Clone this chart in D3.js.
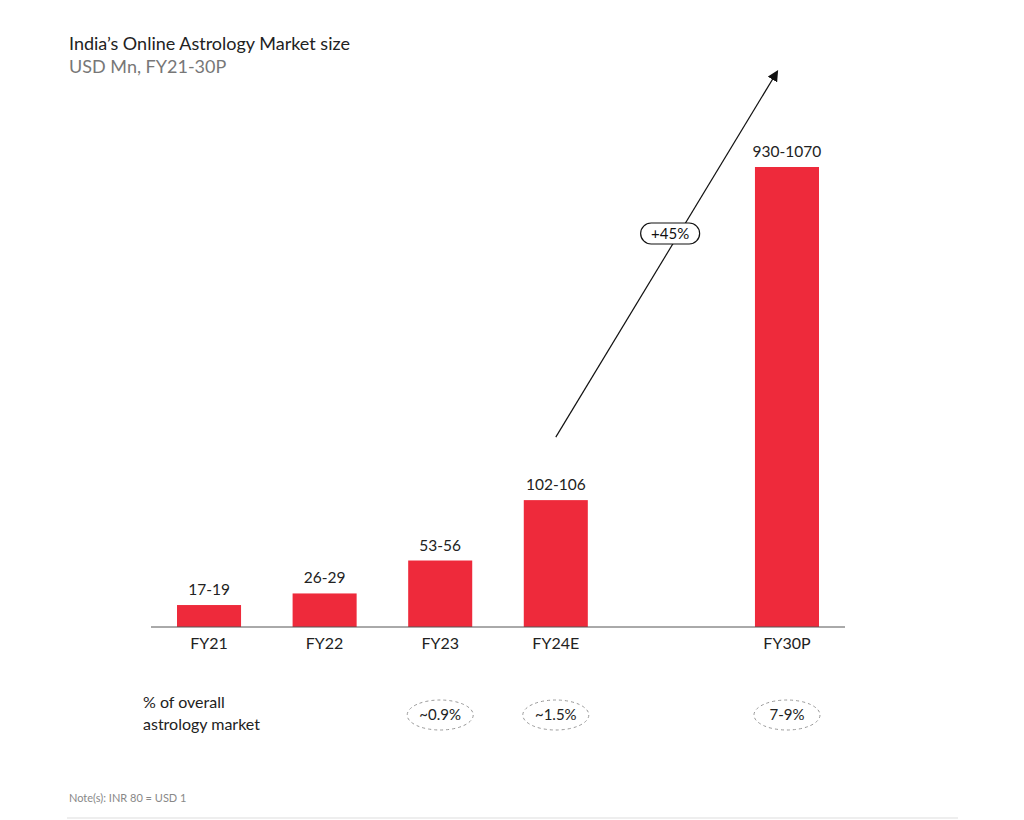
<!DOCTYPE html>
<html><head><meta charset="utf-8">
<script src="https://cdn.jsdelivr.net/npm/d3@7/dist/d3.min.js"></script>
<style>body{margin:0;background:#fff;font-family:Lato,"Noto Sans",sans-serif;}</style>
</head><body><div id="chart"></div>
<script>
const categories = ["FY21","FY22","FY23","FY24E","FY30P"];
const lowValues = [17,26,53,102,930];
const highValues = [19,29,56,106,1070];
const valueLabels = ["17-19","26-29","53-56","102-106","930-1070"];
const shareLabels = [null,null,"~0.9%","~1.5%","7-9%"];
const cagrLabel = "+45%";
const slots = ["FY21","FY22","FY23","FY24E","gap","FY30P"];

const W=1024,H=820;
const svg=d3.select("#chart").append("svg").attr("width",W).attr("height",H);
const red="#ee2a3b";
const baseY=627;

const x=d3.scaleBand().domain(slots).range([151,845]).paddingInner(0.446).paddingOuter(0.225);
// broken axis: linear up to break, compressed above
const y=d3.scaleLinear().domain([0,200,1000]).range([baseY,baseY-244,baseY-460]);
const cx=c=>x(c)+x.bandwidth()/2;

svg.append("text").attr("x",69).attr("y",50).attr("font-size",18).attr("fill","#222").text("India’s Online Astrology Market size");
svg.append("text").attr("x",69).attr("y",73).attr("font-size",18).attr("fill","#777").text("USD Mn, FY21-30P");

const data=categories.map((c,i)=>({c,mid:(lowValues[i]+highValues[i])/2,lab:valueLabels[i],share:shareLabels[i]}));

svg.selectAll("rect.bar").data(data).join("rect").attr("class","bar")
 .attr("x",d=>x(d.c)).attr("width",x.bandwidth())
 .attr("y",d=>y(d.mid)).attr("height",d=>baseY-y(d.mid)).attr("fill",red);

svg.append("line").attr("x1",151).attr("x2",845).attr("y1",baseY).attr("y2",baseY).attr("stroke","#555").attr("stroke-width",1);

svg.selectAll("text.val").data(data).join("text").attr("class","val")
 .attr("x",d=>cx(d.c)).attr("y",d=>y(d.mid)-10)
 .attr("text-anchor","middle").attr("font-size",15.5).attr("fill","#222").text(d=>d.lab);

svg.selectAll("text.cat").data(data).join("text").attr("class","cat")
 .attr("x",d=>cx(d.c)).attr("y",baseY+22)
 .attr("text-anchor","middle").attr("font-size",16).attr("fill","#222").text(d=>d.c);

// share row
svg.append("text").attr("x",143).attr("y",708).attr("font-size",16).attr("fill","#222").text("% of overall");
svg.append("text").attr("x",143).attr("y",730).attr("font-size",16).attr("fill","#222").text("astrology market");
const sd=data.filter(d=>d.share);
svg.selectAll("ellipse.sh").data(sd).join("ellipse").attr("class","sh")
 .attr("cx",d=>cx(d.c)).attr("cy",715).attr("rx",33).attr("ry",15)
 .attr("fill","none").attr("stroke","#999").attr("stroke-dasharray","3,3").attr("stroke-width",1);
svg.selectAll("text.sh").data(sd).join("text").attr("class","sh")
 .attr("x",d=>cx(d.c)).attr("y",720)
 .attr("text-anchor","middle").attr("font-size",15).attr("fill","#222").text(d=>d.share);

// CAGR arrow
const defs=svg.append("defs");
defs.append("marker").attr("id","ah").attr("viewBox","0 0 10 10").attr("refX",8).attr("refY",5)
 .attr("markerWidth",11).attr("markerHeight",11).attr("markerUnits","userSpaceOnUse").attr("orient","auto")
 .append("path").attr("d","M0,0L10,5L0,10Z").attr("fill","#111");
const ax1=cx("FY24E"), ay1=y(104)-63;
const ax2=cx("FY30P")-10, ay2=72;
svg.append("line").attr("x1",ax1).attr("y1",ay1).attr("x2",ax2).attr("y2",ay2)
 .attr("stroke","#111").attr("stroke-width",1.2).attr("marker-end","url(#ah)");
const py=233.5;
const t=(py-ay1)/(ay2-ay1);
const px=ax1+t*(ax2-ax1)-9;
svg.append("rect").attr("x",px-29.5).attr("y",py-10.5).attr("width",59).attr("height",21).attr("rx",10.5)
 .attr("fill","#fff").attr("stroke","#111").attr("stroke-width",1.2);
svg.append("text").attr("x",px).attr("y",py+5.5).attr("text-anchor","middle").attr("font-size",15).attr("fill","#111").text(cagrLabel);

// footnote
svg.append("text").attr("x",69).attr("y",802).attr("font-size",11).attr("fill","#888").text("Note(s): INR 80 = USD 1");
svg.append("line").attr("x1",67).attr("x2",958).attr("y1",818).attr("y2",818).attr("stroke","#eee").attr("stroke-width",2);
</script></body></html>
